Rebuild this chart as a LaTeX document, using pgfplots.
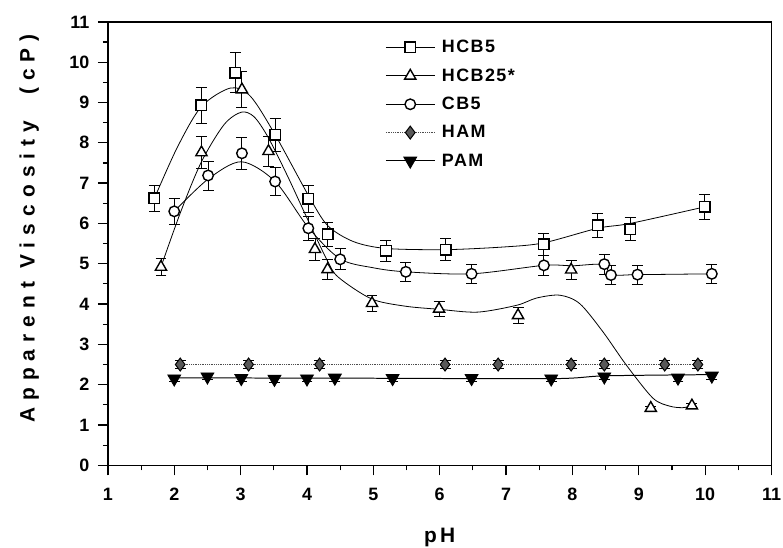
\documentclass[border=0pt]{standalone}
\usepackage{fontspec}
\setmainfont{Liberation Sans}
\newfontfamily\ticksfont{Liberation Sans Bold}
\newfontfamily\labfont[LetterSpace=34]{Liberation Sans Bold}
\newfontfamily\xlabfont[LetterSpace=15]{Liberation Sans Bold}
\newfontfamily\legfont[LetterSpace=8]{Liberation Sans Bold}
\usepackage{pgfplots}
\pgfplotsset{compat=1.18}
\usepackage{pgfplotstable}

\pgfplotsset{
  linelegend/.style={legend image code/.code={\draw[black, line width=0.8pt] (0pt,0pt) -- (49pt,0pt); \draw[##1] plot coordinates {(24.5pt,0pt)};}},
  dotlegend/.style={legend image code/.code={\draw[black!70, densely dotted, line width=0.8pt] (0pt,0pt) -- (49pt,0pt); \draw[##1] plot coordinates {(24.5pt,0pt)};}},
}

\pgfplotstableread{
x y e
1.70 6.62 0.33
2.41 8.93 0.45
2.92 9.74 0.49
3.52 8.20 0.41
4.02 6.61 0.33
4.31 5.73 0.29
5.19 5.32 0.27
6.09 5.35 0.27
7.57 5.48 0.27
8.38 5.95 0.30
8.87 5.86 0.29
9.99 6.41 0.32
}\hcbfive
\pgfplotstableread{
x y e
1.80 4.92 0.22
2.41 7.76 0.39
3.02 9.32 0.45
3.42 7.79 0.38
4.12 5.36 0.27
4.31 4.86 0.25
4.98 4.02 0.20
5.99 3.88 0.19
7.18 3.72 0.19
7.98 4.85 0.24
9.18 1.42 0.05
9.80 1.48 0.05
}\hcbtwentyfive
\pgfplotstableread{
x y e
2.00 6.30 0.32
2.51 7.19 0.36
3.02 7.74 0.39
3.52 7.04 0.35
4.02 5.88 0.29
4.50 5.11 0.26
5.49 4.80 0.24
6.48 4.75 0.24
7.57 4.96 0.25
8.48 4.99 0.25
8.58 4.72 0.24
8.98 4.73 0.24
10.10 4.75 0.24
}\cbfive
\pgfplotstableread{
x y e
2.09 2.50 0.10
3.12 2.50 0.10
4.19 2.50 0.10
6.08 2.50 0.10
6.88 2.50 0.10
7.98 2.50 0.10
8.48 2.50 0.10
9.39 2.50 0.10
9.89 2.50 0.10
}\ham
\pgfplotstableread{
x y e
2.00 2.15 0.08
2.50 2.20 0.08
3.01 2.16 0.08
3.51 2.14 0.08
4.00 2.15 0.08
4.42 2.17 0.08
5.29 2.16 0.08
6.48 2.16 0.08
7.68 2.15 0.08
8.48 2.20 0.08
9.59 2.17 0.08
10.10 2.22 0.08
}\pam

\begin{document}
\begin{tikzpicture}
\begin{axis}[
  width=667.5pt, height=446pt, scale only axis,
  xmin=1, xmax=11, ymin=0, ymax=11,
  xtick={1,...,11}, ytick={0,...,11},
  minor x tick num=1, minor y tick num=1,
  tick align=outside, xtick pos=left, ytick pos=left,
  axis line style={line width=1.6pt},
  major tick length=10pt, minor tick length=5pt,
  every tick/.append style={black, line width=1.3pt},
  every minor tick/.append style={black, line width=1.1pt},
  xticklabel={\fontsize{18}{19}\selectfont\ticksfont\pgfmathprintnumber[assume math mode=true]{\tick}},
  yticklabel={\fontsize{18}{19}\selectfont\ticksfont\pgfmathprintnumber[assume math mode=true]{\tick}},
  xticklabel style={inner sep=0pt, anchor=north, yshift=-12.5pt},
  yticklabel style={inner sep=0pt, anchor=east, xshift=-8.5pt},
  xlabel={\fontsize{21}{24}\selectfont\xlabfont pH},
  ylabel={\fontsize{21}{24}\selectfont\labfont Apparent Viscosity\ \ (cP)},
  xlabel style={at={(axis description cs:0.5,-0.163)}, anchor=center, inner sep=0pt},
  ylabel style={at={(axis description cs:-0.1184,0.534)}, anchor=center, rotate=0, inner sep=0pt},
  legend style={draw=none, fill=none, at={(axis description cs:0.418,0.963)}, anchor=north west,
    font=\fontsize{18}{20}\selectfont\legfont, row sep=10.5pt, column sep=5pt, inner sep=0pt,
    nodes={inner sep=2pt}},
  legend cell align=left,
  error bars/y dir=both, error bars/y explicit,
  error bars/error mark options={rotate=90, mark size=5.5pt, line width=0.9pt, black},
  error bars/error bar style={line width=0.9pt, black},
]
% smooth curves
\addplot[black, line width=0.8pt, smooth, no marks, forget plot] coordinates {
(1.70,6.62) (2.05,7.9) (2.41,8.9) (2.85,9.36) (3.15,9.15) (3.52,8.2) (4.02,6.7)
(4.31,5.95) (4.7,5.55) (5.19,5.38) (6.09,5.35) (7.0,5.42) (7.57,5.52) (8.38,5.88)
(8.87,6.0) (9.99,6.41)};
\addplot[black, line width=0.8pt, smooth, no marks, forget plot] coordinates {
(1.80,4.92) (2.1,6.3) (2.41,7.53) (2.75,8.45) (3.01,8.76) (3.2,8.65) (3.41,8.15)
(3.7,7.2) (4.01,6.1) (4.3,5.1) (4.47,4.67) (4.97,4.13) (5.47,3.95) (5.99,3.87)
(6.57,3.80) (7.16,3.97) (7.46,4.15) (7.81,4.22) (8.11,4.01) (8.46,3.31) (8.81,2.49)
(9.21,1.67) (9.46,1.47) (9.66,1.43) (9.80,1.48)};
\addplot[black, line width=0.8pt, smooth, no marks, forget plot] coordinates {
(2.00,6.3) (2.51,7.1) (3.01,7.53) (3.52,7.04) (4.02,5.9) (4.5,5.12) (5.0,4.9)
(5.49,4.8) (6.48,4.75) (7.57,4.96) (8.0,4.95) (8.45,4.98) (8.6,4.73) (8.98,4.73) (10.1,4.75)};
\addplot[black!70, line width=0.8pt, densely dotted, no marks, forget plot] coordinates {
(2.09,2.5) (9.89,2.5)};
\addplot[black, line width=1.0pt, smooth, no marks, forget plot] coordinates {
(2.0,2.17) (5.0,2.16) (7.7,2.15) (8.5,2.22) (10.1,2.25)};
% markers
\addplot[only marks, mark=square*, mark size=5.3pt, mark options={fill=white, draw=black, line width=1.4pt}, linelegend]
  table[x=x, y=y, y error=e] {\hcbfive};
\addlegendentry{HCB5}
\addplot[only marks, mark=triangle*, mark size=6.5pt, mark options={fill=white, draw=black, line width=1.4pt}, linelegend]
  table[x=x, y=y, y error=e] {\hcbtwentyfive};
\addlegendentry{HCB25*}
\addplot[only marks, mark=*, mark size=5.3pt, mark options={fill=white, draw=black, line width=1.4pt}, linelegend]
  table[x=x, y=y, y error=e] {\cbfive};
\addlegendentry{CB5}
\addplot[only marks, mark=diamond*, mark size=6.5pt, mark options={fill=black!65, draw=black, line width=1.0pt},
  error bars/error bar style={densely dotted, line width=0.8pt, black!70}, dotlegend]
  table[x=x, y=y, y error=e] {\ham};
\addlegendentry{HAM}
\addplot[only marks, mark=triangle*, mark size=7.5pt, mark options={rotate=180, fill=black, draw=black, line width=0.8pt}, linelegend]
  table[x=x, y=y, y error=e] {\pam};
\addlegendentry{PAM}
\end{axis}
\pgfresetboundingbox
\useasboundingbox (-108.5pt,-83pt) rectangle (679pt,468pt);
\end{tikzpicture}
\end{document}
